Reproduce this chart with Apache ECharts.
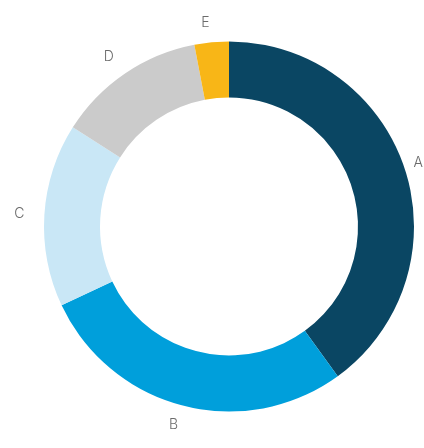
<!DOCTYPE html>
<html>
<head>
<meta charset="utf-8">
<script src="https://cdn.jsdelivr.net/npm/echarts@6/dist/echarts.min.js"></script>
<style>
html,body{margin:0;padding:0;background:#fff;}
#chart{width:424px;height:448px;}
</style>
</head>
<body>
<div id="chart"></div>
<script>
const categories = ['A', 'B', 'C', 'D', 'E'];
const values = [40, 28, 16, 13, 3];
const colors = ['#0a4663', '#009fdb', '#c9e7f6', '#cbcbcb', '#f8b617'];

const data = categories.map((c, i) => {
  const item = { name: c, value: values[i], itemStyle: { color: colors[i] } };
  if (i === 0) {
    // keep the right-most label inside the canvas, as in the reference
    item.label = { alignTo: 'edge', edgeDistance: 1, width: 12, overflow: 'none' };
  }
  return item;
});

const chart = echarts.init(document.getElementById('chart'), null, { renderer: 'canvas' });
chart.setOption({
  animation: false,
  series: [
    {
      type: 'pie',
      center: [229, 226.5],
      radius: [129, 185],
      startAngle: 90,
      clockwise: true,
      silent: true,
      avoidLabelOverlap: true,
      itemStyle: { borderWidth: 0 },
      label: {
        show: true,
        position: 'outside',
        alignTo: 'none',
        distanceToLabelLine: 0,
        bleedMargin: 2,
        color: '#6b6b6b',
        fontSize: 14,
        fontFamily: 'Inter',
        fontWeight: 300,
        formatter: '{b}'
      },
      labelLine: { show: false, length: 20, length2: 0 },
      data: data
    }
  ]
});
</script>
</body>
</html>
